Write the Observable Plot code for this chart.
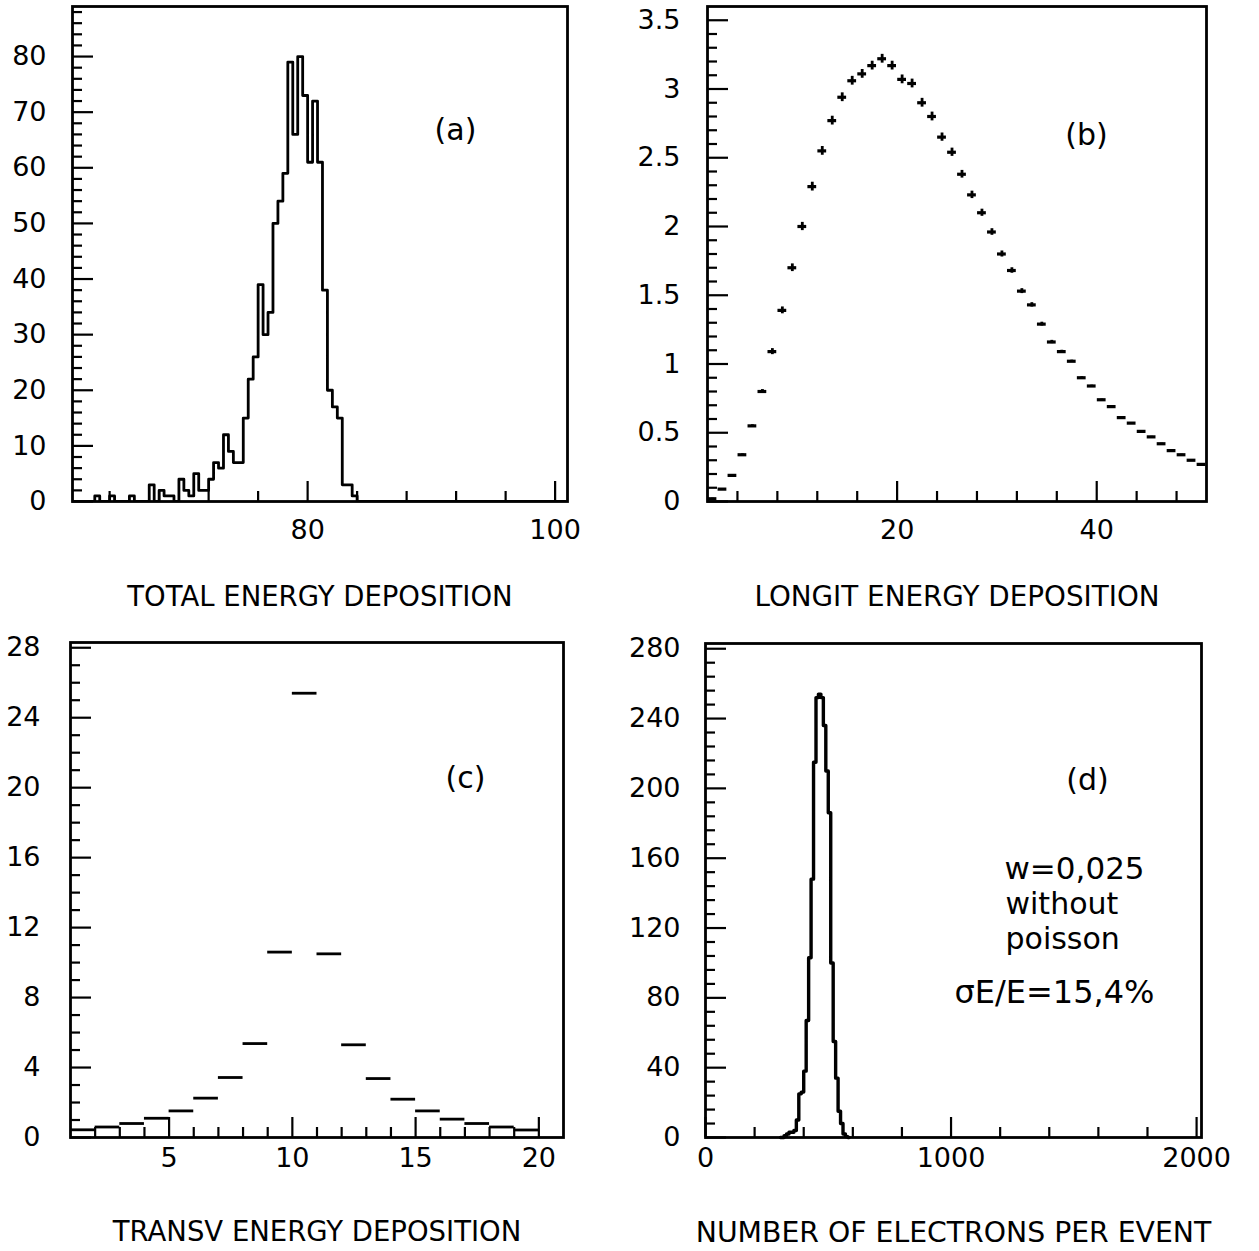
<!DOCTYPE html>
<html><head><meta charset="utf-8">
<script src="https://cdn.jsdelivr.net/npm/d3@7"></script>
<script src="https://cdn.jsdelivr.net/npm/@observablehq/plot@0.6"></script>
<style>
body{margin:0;background:#fff;}
#root{position:relative;width:1259px;height:1251px;background:#fff;overflow:hidden;}
#root svg{position:absolute;overflow:visible;}
</style></head><body><div id="root"></div>
<script>
// ---------- Panel (a): total energy deposition, 100 bins of 0.4 ----------
const aBinStart = 61.2;
const aBinWidth = 0.4;
const aCounts = [
  0,0,0,0,1,0,0,1,0,0,
  0,1,0,0,0,3,0,2,1,1,
  0,4,2,1,5,2,2,4,7,6,
  12,9,7,7,15,22,26,39,30,34,
  50,54,59,79,66,80,73,61,72,61,
  38,20,17,15,3,3,1,0,0,0,
  0,0,0,0,0,0,0,0,0,0,
  0,0,0,0,0,0,0,0,0,0,
  0,0,0,0,0,0,0,0,0,0,
  0,0,0,0,0,0,0,0,0
];
const aXLabels = [80, 100];
const aYLabels = [0, 10, 20, 30, 40, 50, 60, 70, 80];

// ---------- Panel (b): longitudinal energy deposition ----------
const bCenters = d3.range(1.5, 51, 1);
const bValues = [0.02,0.09,0.19,0.34,0.55,0.80,1.09,1.39,1.70,2.00,
  2.29,2.55,2.77,2.94,3.06,3.11,3.17,3.22,3.17,3.07,
  3.04,2.90,2.80,2.65,2.54,2.38,2.23,2.10,1.96,1.80,
  1.68,1.53,1.43,1.29,1.16,1.09,1.02,0.90,0.84,0.74,
  0.69,0.61,0.57,0.51,0.47,0.42,0.37,0.34,0.30,0.27];
const bErrors = [0.004,0.004,0.005,0.006,0.008,0.014,0.022,0.025,0.028,0.03,
  0.032,0.032,0.032,0.032,0.032,0.032,0.032,0.032,0.032,0.032,
  0.032,0.032,0.032,0.03,0.03,0.028,0.027,0.026,0.024,0.022,
  0.02,0.018,0.016,0.014,0.012,0.01,0.008,0.007,0.006,0.005,
  0.005,0.004,0.004,0.004,0.004,0.004,0.004,0.004,0.004,0.004];
const bXLabels = [20, 40];
const bYLabels = [0, 0.5, 1, 1.5, 2, 2.5, 3, 3.5];

// ---------- Panel (c): transverse energy deposition ----------
const cBinLow = [1,2,3,4,5,6,7,8,9,10,11,12,13,14,15,16,17,18,19];
const cValues = [0.44,0.6,0.8,1.1,1.52,2.25,3.43,5.37,10.6,25.4,10.5,5.3,3.37,2.19,1.52,1.05,0.8,0.6,0.43];
const cXLabels = [5, 10, 15, 20];
const cYLabels = [0, 4, 8, 12, 16, 20, 24, 28];

// ---------- Panel (d): number of electrons per event ----------
const dCenters = [305,315,325,335,345,355,365,375,385,395,405,415,425,435,445,455,465,475,485,495,505,515,525,535,545,555,565,575,585];
const dCounts  = [0,0,1,2,3,3,4,10,25,26,38,67,103,148,215,252,254,252,236,210,186,100,55,34,15,8,2,0.5,0];
const dXLabels = [0, 1000, 2000];
const dYLabels = [0, 40, 80, 120, 160, 200, 240, 280];

const FONT = '"DejaVu Sans", Verdana, sans-serif';
const LW = 2.8;

function panel(cfg) {
  const marks = [
    ...cfg.marks,
    Plot.axisX({ticks: cfg.xMinor, tickSize: -10, fill: "none", strokeWidth: 2.2, label: null}),
    Plot.axisX({ticks: cfg.xMajor, tickSize: -20, fill: "none", strokeWidth: 2.2, label: null}),
    Plot.axisY({ticks: cfg.yMinor, tickSize: -10, fill: "none", strokeWidth: 2.2, label: null}),
    Plot.axisY({ticks: cfg.yMajor, tickSize: -21, fill: "none", strokeWidth: 2.2, label: null}),
    Plot.axisX({ticks: cfg.xLabels, tickSize: 0, tickPadding: cfg.xPad, fontSize: 27, label: null, tickFormat: d => String(d)}),
    Plot.axisY({ticks: cfg.yLabels, tickSize: 0, tickPadding: cfg.yPad, fontSize: 27, label: null, tickFormat: d => String(d)}),
    Plot.frame({stroke: "black", strokeWidth: LW}),
    Plot.text([cfg.title], {text: d => d, frameAnchor: "bottom", textAnchor: "middle", dy: cfg.titleDy, fontSize: cfg.titleFs || 27.5, lineAnchor: "middle"}),
    Plot.text([cfg.tag], {text: d => d, frameAnchor: "top-right", textAnchor: "middle", dx: cfg.tagDx, dy: cfg.tagDy, fontSize: 30, lineAnchor: "middle"}),
    ...(cfg.extra || [])
  ];
  const svg = Plot.plot({
    width: cfg.w, height: cfg.h,
    marginLeft: cfg.ml, marginRight: cfg.mr, marginTop: cfg.mt, marginBottom: cfg.mb,
    style: {fontFamily: FONT, fontSize: "27px", background: "white", color: "black", overflow: "visible"},
    x: {domain: cfg.xd},
    y: {domain: cfg.yd},
    marks
  });
  svg.style.left = cfg.left + "px";
  svg.style.top = cfg.top + "px";
  document.getElementById("root").appendChild(svg);
}

// data tables built from arrays
const aPoints = aCounts.map((c, i) => ({x: aBinStart + i * aBinWidth, y: c}));
aPoints.push({x: aBinStart + aCounts.length * aBinWidth, y: 0});
const bData = bCenters.map((x, i) => ({x, y: bValues[i], e: bErrors[i]}));
const cData = cBinLow.map((lo, i) => ({lo, hi: lo + 1, y: cValues[i]}));
const dData = dCenters.map((x, i) => ({x, y: dCounts[i]}));

const minor = (lo, hi, step, majors) => d3.range(lo, hi + 1e-9, step).map(v => +v.toFixed(4)).filter(v => !majors.includes(v));

// (a)
panel({
  left: 0, top: 0, w: 630, h: 630, ml: 72, mr: 63, mt: 6, mb: 129,
  xd: [61, 101], yd: [0, 89],
  xMajor: [80, 100], xMinor: [64, 68, 72, 76, 84, 88, 92, 96],
  yMajor: aYLabels, yMinor: minor(2, 88, 2, aYLabels),
  xLabels: aXLabels, yLabels: aYLabels, xPad: 18, yPad: 26,
  title: "TOTAL ENERGY DEPOSITION", titleDy: 96,
  tag: "(a)", tagDx: -112, tagDy: 124,
  marks: [Plot.line(aPoints, {x: "x", y: "y", curve: "step-after", stroke: "black", strokeWidth: LW, clip: true})]
});

// (b)
panel({
  left: 630, top: 0, w: 629, h: 630, ml: 77, mr: 53, mt: 6, mb: 129,
  xd: [1, 51], yd: [0, 3.6],
  xMajor: [20, 40], xMinor: [4, 8, 12, 16, 24, 28, 32, 36, 44, 48],
  yMajor: bYLabels, yMinor: minor(0.1, 3.5, 0.1, bYLabels),
  xLabels: bXLabels, yLabels: bYLabels, xPad: 18, yPad: 27,
  title: "LONGIT ENERGY DEPOSITION", titleDy: 96, titleFs: 27.8,
  tag: "(b)", tagDx: -120, tagDy: 129,
  marks: [
    Plot.ruleY(bData, {y: "y", x1: d => d.x - 0.44, x2: d => d.x + 0.44, stroke: "black", strokeWidth: 3.2}),
    Plot.ruleX(bData, {x: "x", y1: d => d.y - d.e, y2: d => d.y + d.e, stroke: "black", strokeWidth: 2.8})
  ]
});

// (c)
panel({
  left: 0, top: 630, w: 630, h: 621, ml: 70, mr: 67, mt: 12, mb: 114,
  xd: [1, 21], yd: [0, 28.3],
  xMajor: cXLabels, xMinor: minor(2, 20, 1, cXLabels),
  yMajor: cYLabels, yMinor: minor(1, 28, 1, cYLabels),
  xLabels: cXLabels, yLabels: cYLabels, xPad: 10, yPad: 30,
  title: "TRANSV ENERGY DEPOSITION", titleDy: 95,
  tag: "(c)", tagDx: -98, tagDy: 136,
  marks: [Plot.ruleY(cData, {y: "y", x1: "lo", x2: "hi", stroke: "black", strokeWidth: 2.8})]
});

// (d)
panel({
  left: 630, top: 630, w: 629, h: 621, ml: 75, mr: 58, mt: 13, mb: 114,
  xd: [0, 2020], yd: [0, 283],
  xMajor: [0, 1000, 2000], xMinor: minor(200, 1800, 200, [1000]),
  yMajor: dYLabels, yMinor: minor(8, 280, 8, dYLabels),
  xLabels: dXLabels, yLabels: dYLabels, xPad: 10, yPad: 25,
  title: "NUMBER OF ELECTRONS PER EVENT", titleDy: 95, titleFs: 28.3,
  tag: "(d)", tagDx: -114, tagDy: 137,
  marks: [Plot.line(dData, {x: "x", y: "y", curve: "step", stroke: "black", strokeWidth: 3.4})],
  extra: [
    Plot.text(["w=0,025"], {text: d => d, frameAnchor: "top-right", dx: -197, dy: 226, textAnchor: "start", fontSize: 31, lineAnchor: "middle"}),
    Plot.text(["without"], {text: d => d, frameAnchor: "top-right", dx: -196, dy: 261, textAnchor: "start", fontSize: 30, lineAnchor: "middle"}),
    Plot.text(["poisson"], {text: d => d, frameAnchor: "top-right", dx: -196, dy: 296, textAnchor: "start", fontSize: 30, lineAnchor: "middle"}),
    Plot.text(["σE/E=15,4%"], {text: d => d, frameAnchor: "top-right", dx: -247, dy: 349, textAnchor: "start", fontSize: 32, lineAnchor: "middle"})
  ]
});
</script>
</body></html>
